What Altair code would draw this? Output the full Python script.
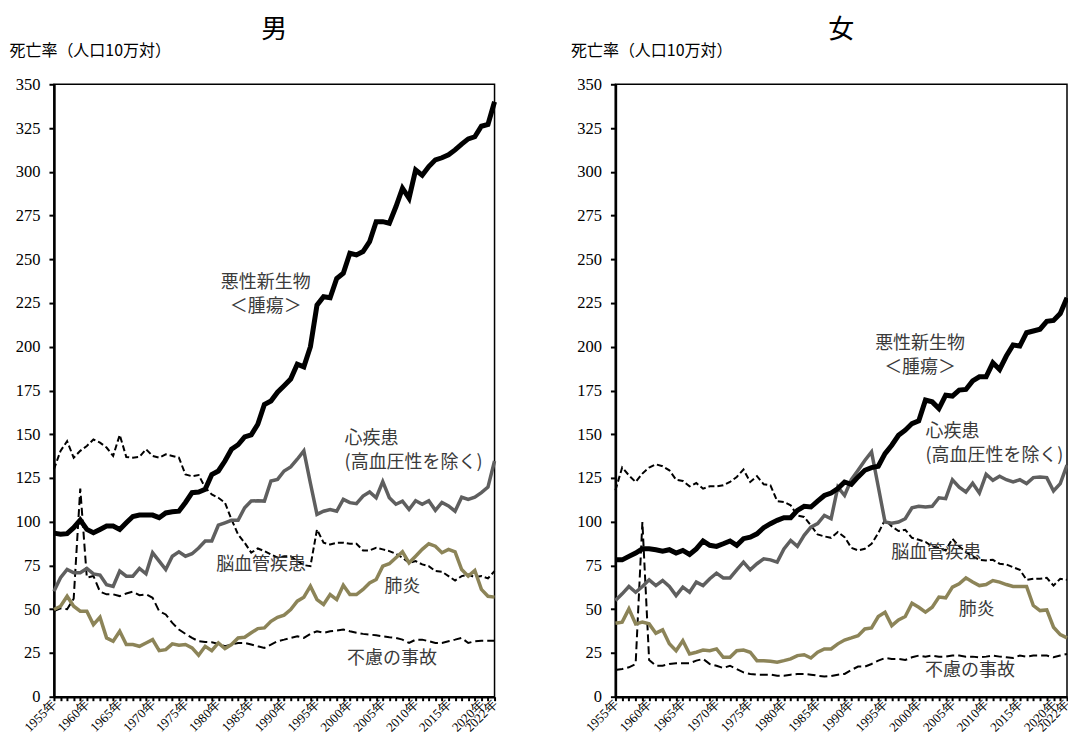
import altair as alt
import pandas as pd

years = list(range(1955, 2023))
tick_years = [1955, 1960, 1965, 1970, 1975, 1980, 1985, 1990, 1995, 2000,
              2005, 2010, 2015, 2020, 2022]
y_ticks = list(range(0, 351, 25))

series_names = ["悪性新生物", "心疾患", "脳血管疾患", "肺炎", "不慮の事故"]

# ---- 男 (1955..2022) ----
male_cancer = [93.5, 92.8, 93.2, 96.6, 101.0, 95.6, 93.7, 95.6, 97.5, 97.5,
               95.6, 99.4, 103.0, 103.8, 103.8, 103.8, 102.3, 105.0, 105.7, 106.0,
               111.0, 116.6, 117.0, 118.5, 127.0, 129.0, 134.7, 141.4, 144.0, 148.5,
               149.6, 155.7, 167.0, 169.0, 174.0, 177.7, 181.5, 190.0, 188.5, 200.0,
               223.8, 228.6, 228.0, 239.0, 242.0, 253.4, 252.5, 254.4, 260.0, 271.5,
               271.5, 270.6, 280.0, 290.6, 284.9, 301.0, 298.0, 303.0, 306.8, 308.0,
               309.7, 312.5, 315.8, 318.8, 320.0, 326.0, 327.0, 340.0]
male_heart = [60.3, 68.0, 72.7, 70.8, 70.8, 73.3, 70.2, 69.5, 64.0, 63.0,
              71.8, 68.9, 68.9, 73.3, 70.2, 82.3, 77.5, 72.7, 80.3, 82.8,
              80.3, 81.7, 85.0, 89.0, 89.0, 98.0, 99.4, 100.8, 100.8, 108.0,
              111.8, 112.0, 111.8, 123.3, 124.2, 129.0, 131.3, 135.7, 140.5, 122.0,
              104.2, 106.0, 107.0, 106.0, 112.8, 110.9, 110.3, 114.7, 117.0, 113.7,
              122.9, 113.7, 110.0, 111.8, 107.0, 112.0, 110.0, 112.0, 106.5, 111.0,
              109.0, 106.0, 114.0, 112.8, 114.0, 116.6, 119.8, 134.7]
male_cerebro = [130.0, 140.5, 146.0, 136.6, 140.5, 143.3, 147.0, 145.2, 142.4, 137.6,
                149.6, 137.0, 136.6, 137.0, 141.4, 137.6, 136.6, 138.5, 137.6, 136.6,
                127.0, 126.0, 126.7, 119.5, 115.6, 113.7, 110.9, 101.3, 92.7, 88.0,
                82.3, 84.7, 83.2, 81.3, 79.4, 80.3, 80.3, 77.5, 75.2, 74.6,
                95.6, 88.0, 87.0, 88.0, 88.0, 87.4, 87.4, 83.6, 83.6, 85.1,
                84.2, 83.2, 81.7, 79.4, 76.5, 77.5, 75.6, 74.6, 71.8, 71.4,
                68.9, 66.4, 68.9, 69.8, 68.3, 68.9, 67.6, 71.8]
male_pneumonia = [49.8, 51.7, 57.4, 51.7, 48.9, 48.9, 41.2, 45.4, 33.6, 31.7,
                  37.4, 29.8, 29.8, 28.8, 30.7, 32.6, 26.3, 26.9, 30.2, 29.4,
                  29.8, 27.9, 23.7, 28.8, 26.3, 30.7, 27.5, 29.8, 33.6, 34.0,
                  36.5, 38.9, 39.3, 43.1, 45.4, 46.6, 49.8, 54.6, 56.9, 63.2,
                  55.5, 52.7, 58.4, 55.5, 63.7, 58.4, 58.4, 61.3, 65.0, 67.0,
                  74.6, 76.0, 79.4, 82.8, 76.5, 80.3, 84.2, 87.4, 86.0, 82.3,
                  84.2, 82.8, 72.7, 68.9, 72.1, 61.3, 57.4, 56.9]
male_accident = [49.0, 50.5, 50.0, 56.0, 119.0, 68.0, 69.0, 60.0, 58.5, 58.5,
                 57.5, 59.0, 60.0, 58.0, 58.5, 56.5, 48.9, 47.0, 42.2, 38.4,
                 35.9, 33.6, 31.7, 31.3, 31.1, 30.2, 28.8, 29.8, 30.7, 30.7,
                 29.8, 28.8, 27.9, 29.8, 31.7, 32.6, 33.6, 34.5, 33.6, 35.9,
                 37.4, 36.5, 37.4, 37.8, 38.4, 37.4, 36.5, 35.9, 35.5, 35.1,
                 34.5, 34.0, 33.6, 32.6, 30.7, 32.6, 32.6, 31.7, 30.7, 30.7,
                 31.7, 32.6, 33.6, 30.7, 31.7, 32.0, 32.0, 32.0]

# ---- 女 (1955..2022) ----
female_cancer = [78.2, 78.2, 80.2, 82.1, 84.5, 84.5, 84.0, 83.2, 84.0, 82.1,
                 83.6, 81.3, 84.5, 89.0, 86.5, 85.9, 87.4, 89.0, 86.5, 90.3,
                 91.2, 93.1, 96.6, 98.9, 100.8, 102.3, 102.3, 106.5, 108.8, 108.4,
                 111.8, 115.0, 116.4, 118.9, 122.7, 121.4, 125.6, 129.4, 130.9, 131.7,
                 138.9, 143.7, 149.4, 152.3, 156.1, 157.6, 169.5, 168.5, 164.7, 172.3,
                 171.8, 175.2, 175.6, 180.5, 182.8, 182.8, 190.8, 187.0, 194.7, 201.0,
                 200.4, 208.0, 209.0, 210.0, 214.5, 215.0, 219.0, 228.0]
female_heart = [55.0, 58.8, 63.0, 59.7, 63.0, 66.8, 63.5, 66.4, 63.0, 57.8,
                62.6, 59.7, 65.5, 63.5, 67.4, 70.6, 67.9, 67.9, 72.5, 76.9,
                72.5, 76.0, 78.8, 78.2, 76.9, 84.5, 89.3, 85.9, 92.2, 96.9,
                98.9, 103.6, 101.7, 119.8, 115.0, 124.0, 129.4, 135.0, 139.9, 120.0,
                99.8, 99.2, 99.8, 101.7, 108.0, 108.8, 108.4, 108.8, 113.7, 113.2,
                124.0, 119.8, 117.0, 122.0, 116.4, 127.1, 123.7, 126.0, 124.0, 122.7,
                124.0, 121.8, 125.2, 125.6, 125.2, 117.6, 121.8, 132.3]
female_cerebro = [118.0, 131.0, 126.5, 122.7, 127.5, 131.0, 132.8, 131.7, 129.4, 124.0,
                  123.3, 120.2, 122.1, 118.9, 120.2, 120.2, 120.8, 122.7, 125.6, 129.8,
                  122.7, 126.0, 121.4, 120.8, 111.8, 111.3, 109.4, 103.6, 102.7, 97.9,
                  92.7, 91.6, 90.8, 94.1, 91.2, 85.1, 83.6, 84.5, 87.4, 93.5,
                  101.1, 97.3, 94.7, 95.4, 90.8, 89.7, 88.4, 85.9, 85.1, 83.6,
                  90.3, 85.9, 82.6, 80.2, 78.2, 77.9, 78.2, 76.0, 75.6, 74.0,
                  72.5, 66.8, 67.4, 67.4, 67.9, 63.5, 67.4, 66.8]
female_pneumonia = [42.0, 42.6, 50.2, 41.6, 42.6, 41.6, 36.3, 38.2, 30.2, 26.3,
                    32.0, 24.4, 25.4, 26.7, 26.3, 27.3, 22.5, 22.5, 26.3, 26.7,
                    25.4, 20.6, 20.6, 20.2, 19.7, 20.6, 21.6, 23.5, 24.0, 22.1,
                    25.4, 27.3, 27.3, 30.2, 32.4, 33.6, 34.9, 38.7, 39.3, 45.8,
                    48.3, 40.6, 43.9, 45.8, 53.4, 51.1, 48.3, 51.1, 56.9, 56.5,
                    62.6, 64.5, 67.9, 65.5, 63.5, 64.1, 66.4, 65.5, 64.1, 63.0,
                    63.0, 63.0, 52.1, 49.2, 49.6, 39.7, 35.5, 33.6]
female_accident = [15.3, 15.8, 16.8, 18.7, 99.8, 21.0, 17.7, 17.7, 18.7, 19.1,
                   19.1, 19.1, 20.6, 21.6, 18.7, 17.7, 16.4, 17.7, 15.8, 13.9,
                   13.0, 12.6, 12.6, 12.6, 12.0, 12.0, 12.6, 13.0, 13.0, 12.6,
                   12.0, 11.5, 11.8, 12.6, 13.0, 15.3, 17.2, 17.2, 18.7, 20.6,
                   22.1, 21.6, 21.6, 21.0, 22.5, 23.5, 22.9, 23.5, 22.9, 22.9,
                   23.5, 23.5, 22.9, 22.9, 22.5, 22.9, 23.5, 22.9, 22.5, 22.1,
                   23.5, 22.9, 23.5, 23.5, 23.5, 22.5, 23.5, 24.4]

# annotation labels (text, year position, value position, alignment)
male_ann_text = ["悪性新生物\n＜腫瘍＞", "心疾患\n(高血圧性を除く)", "脳血管疾患", "肺炎", "不慮の事故"]
male_ann_year = [1987.2, 1999.2, 1986.5, 2008.0, 2006.4]
male_ann_value = [236.5, 147.2, 75.3, 62.7, 21.6]
female_ann_text = ["悪性新生物\n＜腫瘍＞", "心疾患\n(高血圧性を除く)", "脳血管疾患", "肺炎", "不慮の事故"]
female_ann_year = [2000.2, 2001.0, 2002.6, 2008.6, 2007.6]
female_ann_value = [201.5, 151.1, 82.4, 49.8, 14.9]
ann_align = ["center", "left", "center", "center", "center"]

styles = {
    "脳血管疾患": dict(color="black", strokeWidth=2, strokeDash=[6, 3]),
    "不慮の事故": dict(color="black", strokeWidth=2, strokeDash=[8, 4]),
    "肺炎": dict(color="#8c8458", strokeWidth=3.5),
    "心疾患": dict(color="#5f5f5f", strokeWidth=3.5),
    "悪性新生物": dict(color="black", strokeWidth=5),
}

SERIF = "Liberation Serif"
JP = "Noto Sans CJK JP"


def make_df(cancer, heart, cerebro, pneu, acc):
    rows = []
    for name, vals in zip(series_names, [cancer, heart, cerebro, pneu, acc]):
        for yr, v in zip(years, vals):
            rows.append({"year": yr, "value": v, "series": name})
    return pd.DataFrame(rows)


label_expr = ("indexof([" + ",".join(str(t) for t in tick_years) +
              "], datum.value) >= 0 ? datum.value + '年' : ''")


def panel(title, df, ann_text, ann_year, ann_value, width):
    x = alt.X("year:Q",
              scale=alt.Scale(domain=[1955, 2022], nice=False, zero=False),
              axis=alt.Axis(values=years, labelExpr=label_expr, labelAngle=-45,
                            labelAlign="right", labelBaseline="middle",
                            tickSize=4, tickWidth=2, labelOverlap=False,
                            labelFlush=False, grid=False, title=None,
                            labelFont=SERIF, labelFontSize=13, labelPadding=1,
                            labelColor="black"))
    y = alt.Y("value:Q",
              scale=alt.Scale(domain=[0, 350], nice=False),
              axis=alt.Axis(values=y_ticks, grid=False, tickSize=5, tickWidth=2,
                            labelFont=SERIF, labelFontSize=16.5, labelPadding=9,
                            labelColor="black",
                            title="死亡率（人口10万対）", titleAngle=0,
                            titleAlign="left", titleBaseline="middle",
                            titleX=-45, titleY=-34, titleFont=JP,
                            titleFontSize=16, titleFontWeight="normal",
                            titleColor="black"))
    base = alt.Chart(df)
    layers = []
    for name in ["脳血管疾患", "不慮の事故", "肺炎", "心疾患", "悪性新生物"]:
        layers.append(base.transform_filter(alt.datum.series == name)
                      .mark_line(**styles[name]).encode(x=x, y=y))
    ann = pd.DataFrame({"text": ann_text, "year": ann_year,
                        "value": ann_value, "align": ann_align})
    for al in ["center", "left"]:
        layers.append(alt.Chart(ann).transform_filter(alt.datum.align == al)
                      .mark_text(align=al, baseline="middle", lineBreak="\n",
                                 font=JP, fontSize=18, color="#3a3a3a",
                                 lineHeight=24)
                      .encode(x=x, y=y, text="text:N"))
    return alt.layer(*layers).properties(
        width=width, height=613,
        title=alt.TitleParams(title, font=JP, fontSize=26, fontWeight="normal",
                              color="black", offset=-1))


male_df = make_df(male_cancer, male_heart, male_cerebro, male_pneumonia, male_accident)
female_df = make_df(female_cancer, female_heart, female_cerebro, female_pneumonia,
                    female_accident)

chart = alt.hconcat(
    panel("男", male_df, male_ann_text, male_ann_year, male_ann_value, 441),
    panel("女", female_df, female_ann_text, female_ann_year, female_ann_value, 452),
    spacing=121, bounds="flush",
).properties(
    padding={"left": 0, "top": 8, "right": -10, "bottom": 6}
).configure_view(
    stroke="black", strokeWidth=1.5
).configure_axis(
    domainColor="black", domainWidth=2.5, tickColor="black"
)

chart.save("out.html", embed_options={"renderer": "svg", "actions": False})
